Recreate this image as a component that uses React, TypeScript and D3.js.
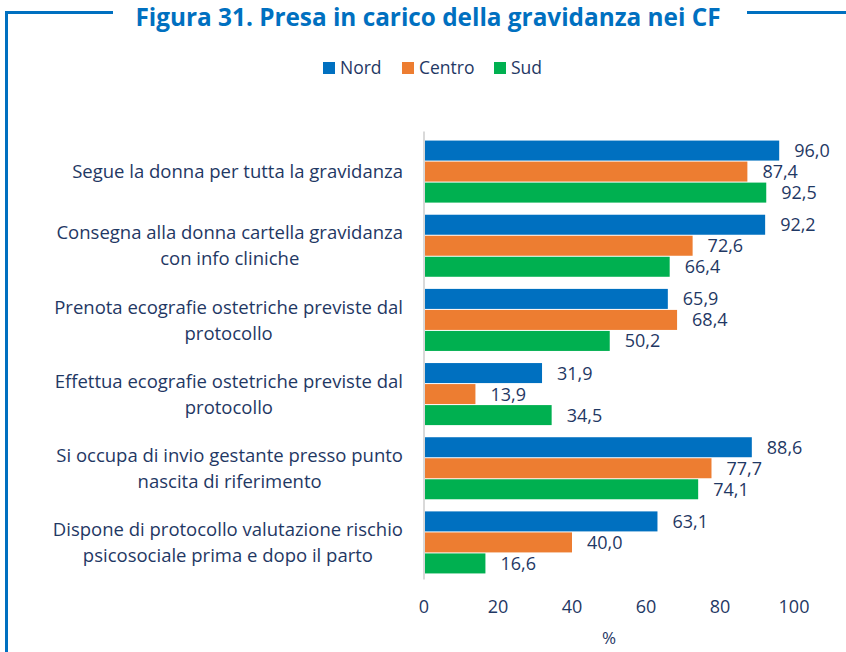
import { useRef, useEffect } from 'react';
import * as d3 from 'd3';

const categories = [
  'Segue la donna per tutta la gravidanza',
  'Consegna alla donna cartella gravidanza\ncon info cliniche',
  'Prenota ecografie ostetriche previste dal\nprotocollo',
  'Effettua ecografie ostetriche previste dal\nprotocollo',
  'Si occupa di invio gestante presso punto\nnascita di riferimento',
  'Dispone di protocollo valutazione rischio\npsicosociale prima e dopo il parto',
];
const seriesNames = ['Nord', 'Centro', 'Sud'];
const nord = [96.0, 92.2, 65.9, 31.9, 88.6, 63.1];
const centro = [87.4, 72.6, 68.4, 13.9, 77.7, 40.0];
const sud = [92.5, 66.4, 50.2, 34.5, 74.1, 16.6];
const xTicks = [0, 20, 40, 60, 80, 100];

const COLORS = ['#0070C0', '#ED7D31', '#00B050'];
const NAVY = '#1F3864';
const FONT = '"Open Sans", Lato, sans-serif';

export default function App() {
  const ref = useRef<SVGSVGElement | null>(null);

  useEffect(() => {
    if (!ref.current) return;
    document.body.style.margin = '0';
    const svg = d3.select(ref.current);
    svg.selectAll('*').remove();

    const W = 846, H = 652;
    const left = 424, right = 794, top = 134.5, bottom = 579.5;

    svg.append('rect').attr('width', W).attr('height', H).attr('fill', '#fff');

    // frame
    const frame = svg.append('g').attr('stroke', '#0070C0').attr('stroke-width', 3).attr('fill', 'none');
    frame.append('path').attr('d', `M113,12.5 H6.5 V${H}`);
    frame.append('path').attr('d', `M747,12.5 H${W}`);

    const title = svg.append('text')
      .attr('x', 428).attr('y', 26)
      .attr('text-anchor', 'middle')
      .attr('font-family', FONT).attr('font-weight', 700).attr('font-size', 24.5)
      .attr('fill', '#0070C0')
      .text('Figura 31. Presa in carico della gravidanza nei CF');
    const tw = (title.node() as SVGTextElement).getComputedTextLength();
    if (tw > 588) title.attr('textLength', 585).attr('lengthAdjust', 'spacingAndGlyphs');

    // legend
    const legX = [323, 402, 494];
    seriesNames.forEach((s, i) => {
      const g = svg.append('g').attr('transform', `translate(${legX[i]},74)`);
      g.append('rect').attr('x', 0).attr('y', -12).attr('width', 12).attr('height', 12).attr('fill', COLORS[i]);
      g.append('text').attr('x', 17).attr('y', 0)
        .attr('font-family', FONT).attr('font-size', 17.5).attr('fill', NAVY).text(s);
    });

    const x = d3.scaleLinear().domain([0, 100]).range([left, right]);
    const y0 = d3.scaleBand<number>().domain(d3.range(categories.length)).range([top, bottom]).paddingInner(0.15).paddingOuter(0.075);
    const y1 = d3.scaleBand<number>().domain([0, 1, 2]).range([0, y0.bandwidth()]);

    const values = [nord, centro, sud];

    // bars
    categories.forEach((_, ci) => {
      const g = svg.append('g').attr('transform', `translate(0,${y0(ci)})`);
      values.forEach((arr, si) => {
        const v = arr[ci];
        g.append('rect')
          .attr('x', x(0)).attr('y', y1(si)! + 0.5)
          .attr('width', x(v) - x(0)).attr('height', y1.bandwidth() - 1)
          .attr('fill', COLORS[si]);
        g.append('text')
          .attr('x', x(v) + 15).attr('y', y1(si)! + y1.bandwidth() / 2)
          .attr('dy', '0.36em')
          .attr('font-family', FONT).attr('font-size', 18).attr('fill', NAVY)
          .text(v.toFixed(1).replace('.', ','));
      });
    });

    // axis line
    svg.append('line').attr('x1', left).attr('x2', left).attr('y1', top - 3).attr('y2', bottom)
      .attr('stroke', '#D9D9D9').attr('stroke-width', 2);

    // category labels: block right-aligned, lines centred
    categories.forEach((c, ci) => {
      const lines = c.split('\n');
      const cy = y0(ci)! + y0.bandwidth() / 2;
      const lh = 26;
      const t = svg.append('text')
        .attr('font-family', FONT).attr('font-size', 18.5).attr('fill', NAVY)
        .attr('text-anchor', 'middle');
      lines.forEach((l, li) => {
        t.append('tspan')
          .attr('y', cy + (li - (lines.length - 1) / 2) * lh)
          .attr('dy', '0.36em')
          .text(l);
      });
      const maxW = d3.max(t.selectAll<SVGTSpanElement, unknown>('tspan').nodes(), n => n.getComputedTextLength()) || 0;
      t.selectAll('tspan').attr('x', 403 - maxW / 2);
    });

    // x tick labels
    svg.append('g').selectAll('text').data(xTicks).join('text')
      .attr('x', d => x(d)).attr('y', 607).attr('dy', '0.36em')
      .attr('text-anchor', 'middle')
      .attr('font-family', FONT).attr('font-size', 18).attr('fill', NAVY)
      .text(d => String(d));

    svg.append('text')
      .attr('x', (left + right) / 2).attr('y', 638).attr('dy', '0.36em')
      .attr('text-anchor', 'middle')
      .attr('font-family', FONT).attr('font-size', 17).attr('fill', NAVY)
      .text('%');
  }, []);

  return <svg ref={ref} width={846} height={652} style={{ display: 'block' }} />;
}
